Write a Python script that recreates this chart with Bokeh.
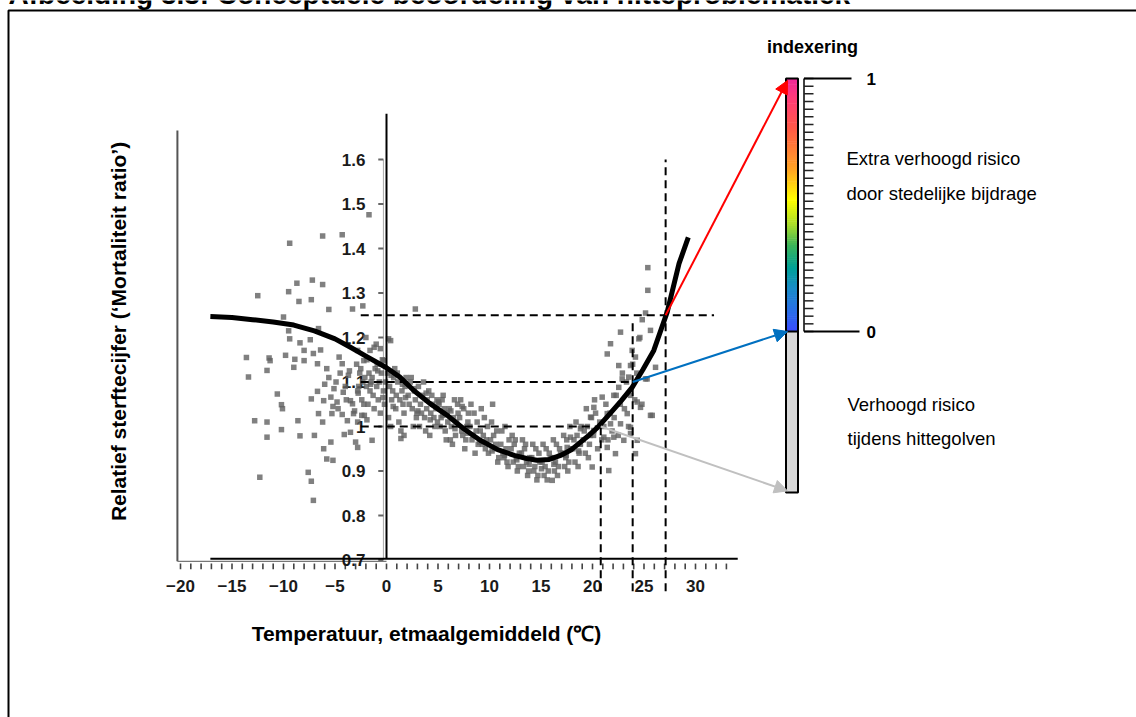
import math
from bokeh.plotting import figure
from bokeh.models import Range1d, Arrow, NormalHead
from bokeh.core.properties import value
from bokeh.embed import file_html
from bokeh.resources import INLINE

# ---------------- texts ----------------
title_text = "Afbeelding 3.3: Conceptuele beoordeling van hitteproblematiek"
x_label = "Temperatuur, etmaalgemiddeld (\u2103)"
y_label = "Relatief sterftecijfer (\u2018Mortaliteit ratio\u2019)"
index_title = "indexering"
upper_text = ["Extra verhoogd risico", "door stedelijke bijdrage"]
lower_text = ["Verhoogd risico", "tijdens hittegolven"]

# ---------------- axes ----------------
x_ticks = [-20, -15, -10, -5, 0, 5, 10, 15, 20, 25, 30]
x_tick_labels = ["\u221220", "\u221215", "\u221210", "\u22125", "0", "5", "10", "15", "20", "25", "30"]
x_minor_ticks = [-20, -19, -18, -17, -16, -15, -14, -13, -12, -11, -10, -9, -8, -7, -6, -5, -4, -3, -2, -1,
                 0, 1, 2, 3, 4, 5, 6, 7, 8, 9, 10, 11, 12, 13, 14, 15, 16, 17, 18, 19, 20, 21, 22, 23, 24,
                 25, 26, 27, 28, 29, 30, 31, 32, 33]
y_ticks = [0.7, 0.8, 0.9, 1.0, 1.1, 1.2, 1.3, 1.4, 1.5, 1.6]
y_tick_labels = ["0.7", "0.8", "0.9", "1", "1.1", "1.2", "1.3", "1.4", "1.5", "1.6"]

# ---------------- fitted curve ----------------
curve_T = [-17.1, -15, -13, -11, -9, -7, -5, -3.5, -2, 0, 1.3, 2.65, 4.2, 5.9, 7.5, 9.1, 10.8, 12.4,
           13.6, 14.6, 15.8, 16.9, 17.9, 18.9, 19.7, 20.5, 21.7, 22.8, 23.85, 24.9, 25.95, 27.25, 28.4, 29.3]
curve_r = [1.247, 1.245, 1.240, 1.235, 1.228, 1.215, 1.197, 1.178, 1.158, 1.132, 1.111, 1.081, 1.052,
           1.025, 0.995, 0.969, 0.948, 0.935, 0.928, 0.924, 0.926, 0.935, 0.947, 0.966, 0.981, 0.998,
           1.029, 1.058, 1.088, 1.128, 1.171, 1.257, 1.366, 1.425]

# ---------------- observations (daily values) ----------------
cold_T = [-9.4, -6.2, -4.3, -1.7, -12.5, -9.5, -8.7, -7.2, -6.2, -8.5, -7.3, -5.6, -3.3, -2.3, -10.0,
          -9.5, -6.6, -9.4, -8.4, -7.4, -8.0, -7.1, -6.4, -13.6, -11.4, -11.3, -11.6, -13.4, -9.8, -8.9,
          -8.0, -9.0, -6.7, -5.8, -4.6, -4.3, -2.8, -2.2, -1.6, -1.2, -0.6, -0.3, 0.2, -10.6, -10.2,
          -10.1, -12.8, -11.6, -11.6, -10.2, -8.6, -8.4, -7.0, -7.3, -6.7, -6.1, -6.6, -6.2, -5.3, -4.8,
          -5.4, -4.2, -3.5, -4.3, -3.2, -2.8, -5.4, -6.1, -5.8, -5.2, -4.1, -3.5, -3.0, -2.8, -1.4, -7.6,
          -7.3, -12.3, -7.1, 1.7, -3.8, -3.3, -4.9, -4.5, -4.0, -3.7, -5.1, -3.9, -4.7, -5.6, -6.0, -5.2,
          2.8, 0.4, 1.4, -3.1, -2.4, -1.9, -3.6, -2.0, -1.0]
cold_r = [1.412, 1.428, 1.431, 1.476, 1.294, 1.303, 1.322, 1.329, 1.319, 1.281, 1.285, 1.263, 1.264,
          1.271, 1.246, 1.215, 1.220, 1.197, 1.188, 1.195, 1.171, 1.164, 1.172, 1.155, 1.154, 1.148,
          1.126, 1.111, 1.160, 1.151, 1.148, 1.133, 1.141, 1.130, 1.156, 1.141, 1.171, 1.148, 1.171,
          1.178, 1.175, 1.148, 1.197, 1.073, 1.049, 1.040, 1.013, 1.010, 0.976, 0.993, 1.013, 0.979,
          0.980, 1.062, 1.079, 1.058, 1.029, 1.010, 1.029, 1.055, 1.066, 1.077, 1.058, 1.027, 1.029,
          1.010, 0.965, 0.950, 0.927, 0.924, 0.982, 0.987, 0.965, 0.953, 0.969, 0.897, 0.877, 0.886,
          0.834, 0.980, 1.013, 1.051, 1.100, 1.120, 1.090, 1.115, 1.085, 1.060, 1.040, 1.110, 1.095,
          1.045, 1.264, 1.193, 0.973, 1.035, 1.025, 1.015, 1.125, 1.200, 1.185]

band_T = [-2.9, -2.6, -2.3, -2.8, -2.4, -2.1, -2.7, -2.2, -2.5,
          -1.9, -1.7, -1.5, -1.3, -1.8, -1.1, -1.6, -1.2, -1.4, -1.95,
          -0.9, -0.7, -0.5, -0.3, -0.8, -0.2, -0.6, -0.4, -0.1, -0.95,
          0.1, 0.3, 0.5, 0.7, 0.9, 0.2, 0.6, 0.8, 0.4, 0.95,
          1.1, 1.3, 1.5, 1.7, 1.9, 1.2, 1.6, 1.8, 1.4, 1.05,
          2.1, 2.3, 2.5, 2.7, 2.9, 2.2, 2.6, 2.8, 2.4, 2.95,
          3.1, 3.3, 3.5, 3.7, 3.9, 3.2, 3.6, 3.8, 3.4, 3.95,
          4.1, 4.3, 4.5, 4.7, 4.9, 4.2, 4.6, 4.8, 4.4, 4.95,
          5.1, 5.3, 5.5, 5.7, 5.9, 5.2, 5.6, 5.8, 5.4, 5.95,
          6.1, 6.3, 6.5, 6.7, 6.9, 6.2, 6.6, 6.8, 6.4, 6.95,
          7.1, 7.3, 7.5, 7.7, 7.9, 7.2, 7.6, 7.8, 7.4, 7.95,
          8.1, 8.3, 8.5, 8.7, 8.9, 8.2, 8.6, 8.8, 8.4,
          9.1, 9.3, 9.5, 9.7, 9.9, 9.2, 9.6, 9.8, 9.4,
          10.1, 10.3, 10.5, 10.7, 10.9, 10.2, 10.6, 10.8, 10.4,
          11.1, 11.3, 11.5, 11.7, 11.9, 11.2, 11.6, 11.8, 11.4,
          12.1, 12.3, 12.5, 12.7, 12.9, 12.2, 12.6, 12.8, 12.4,
          13.1, 13.3, 13.5, 13.7, 13.9, 13.2, 13.6, 13.8, 13.4,
          14.1, 14.3, 14.5, 14.7, 14.9, 14.2, 14.6, 14.8, 14.4,
          15.1, 15.3, 15.5, 15.7, 15.9, 15.2, 15.6, 15.8, 15.4,
          16.1, 16.3, 16.5, 16.7, 16.9, 16.2, 16.6, 16.8, 16.4,
          17.1, 17.3, 17.5, 17.7, 17.9, 17.2, 17.6, 17.8, 17.4,
          18.1, 18.3, 18.5, 18.7, 18.9, 18.2, 18.6, 18.8, 18.4,
          19.1, 19.3, 19.5, 19.7, 19.9, 19.2, 19.6, 19.8, 19.4,
          20.1, 20.3, 20.5, 20.7, 20.9, 20.2,
          21.1, 21.3, 21.5, 21.7, 21.9,
          22.1, 22.3, 22.5, 22.7, 22.9,
          23.1, 23.3, 23.5, 23.7, 23.9,
          24.1, 24.3, 24.6, 24.8,
          -2.75, -1.55, -0.35, 0.65, 1.85, 3.05, 4.25, 5.45, 6.65, 7.85, 9.05, 10.25, 11.45, 12.65,
          13.85, 15.05, 16.25, 17.45, 18.65, -2.15, -0.85, 0.45, 1.55, 2.65, 3.85, 5.05, 6.25, 7.35]
band_r = [1.14, 1.12, 1.10, 1.08, 1.06, 1.11, 1.09, 1.05, 1.13,
          1.15, 1.12, 1.10, 1.07, 1.05, 1.13, 1.08, 1.04, 1.11, 1.09,
          1.14, 1.10, 1.12, 1.08, 1.06, 1.05, 1.03, 1.15, 1.10, 1.09,
          1.12, 1.09, 1.06, 1.11, 1.04, 1.02, 1.08, 1.13, 1.00, 1.07,
          1.10, 1.06, 1.08, 1.03, 1.11, 1.01, 1.05, 1.09, 0.99, 1.12,
          1.07, 1.10, 1.04, 1.08, 1.02, 1.05, 1.00, 1.06, 1.11, 1.03,
          1.09, 1.05, 1.07, 1.02, 1.04, 1.00, 1.10, 0.99, 1.03, 1.06,
          1.08, 1.03, 1.05, 1.00, 1.06, 0.98, 1.02, 1.04, 1.07, 1.01,
          1.05, 1.02, 1.07, 0.99, 1.03, 1.00, 1.04, 0.97, 1.06, 1.01,
          1.04, 1.00, 1.02, 0.98, 1.05, 0.97, 1.06, 1.01, 0.96, 1.03,
          1.02, 0.99, 1.04, 0.97, 1.01, 1.06, 0.95, 1.00, 0.98, 1.03,
          1.00, 0.97, 1.03, 0.99, 0.96, 1.05, 0.94, 1.01, 0.98,
          0.99, 0.96, 1.02, 0.97, 0.94, 1.04, 0.95, 1.00, 0.98,
          0.97, 1.05, 0.95, 0.99, 0.93, 1.01, 0.96, 0.92, 0.98,
          0.96, 0.94, 1.00, 0.92, 0.97, 0.99, 0.95, 0.91, 0.93,
          0.95, 0.92, 0.97, 0.90, 0.94, 0.98, 0.93, 0.91, 0.96,
          0.94, 0.91, 0.96, 0.89, 0.93, 0.97, 0.92, 0.90, 0.95,
          0.93, 0.90, 0.95, 0.89, 0.92, 0.96, 0.88, 0.94, 0.91,
          0.92, 0.89, 0.95, 0.90, 0.93, 0.96, 0.88, 0.94, 0.91,
          0.93, 0.90, 0.96, 0.91, 0.94, 0.97, 0.89, 0.95, 0.92,
          0.94, 0.91, 0.97, 0.92, 0.95, 0.98, 0.90, 1.00, 0.93,
          0.95, 0.92, 0.98, 0.94, 1.00, 0.97, 0.91, 0.96, 1.01,
          0.97, 0.94, 1.00, 0.96, 1.02, 0.99, 0.93, 0.98, 1.04,
          0.98, 1.03, 0.95, 1.01, 0.97, 1.06,
          1.00, 1.05, 0.97, 1.03, 0.99,
          1.02, 1.07, 0.98, 1.05, 1.12,
          1.04, 1.10, 1.00, 1.07, 1.14,
          1.06, 1.12, 1.20, 1.05,
          1.075, 1.095, 1.065, 1.045, 1.065, 1.035, 1.015, 1.025, 0.995, 0.985, 0.965, 0.945, 0.935,
          0.925, 0.915, 0.905, 0.915, 0.935, 0.945, 1.025, 1.125, 1.115, 1.095, 1.085, 1.075, 1.055,
          1.035, 1.045]

warm_T = [25.37, 25.37, 25.15, 24.83, 22.72, 21.75, 21.43, 24.5, 25.63, 23.85, 24.17, 23.69, 22.55,
          23.52, 22.88, 26.12, 25.15, 22.55, 20.94, 22.07, 24.34, 24.66, 20.13, 21.43, 23.37, 25.63,
          19.81, 21.75, 22.72, 23.69, 18.83, 20.13, 21.1, 22.07, 17.86, 23.04, 23.69, 21.43, 17.54,
          18.83, 19.97, 21.58, 22.23, 24.17, 24.34, 16.09, 25.8, 25.3]
warm_r = [1.357, 1.306, 1.255, 1.240, 1.212, 1.186, 1.163, 1.197, 1.216, 1.171, 1.156, 1.137, 1.137,
          1.111, 1.107, 1.133, 1.107, 1.088, 1.066, 1.070, 1.055, 1.043, 1.043, 1.029, 1.029, 1.025,
          1.021, 1.006, 1.006, 0.998, 0.995, 0.991, 0.976, 0.976, 0.976, 0.969, 0.984, 0.953, 0.953,
          0.961, 0.909, 0.901, 0.939, 0.939, 0.969, 0.879, 1.025, 1.107]

# ---------------- thresholds ----------------
threshold_T = [20.8, 23.9, 27.1]
threshold_r = [1.0, 1.1, 1.25]
threshold_hline_end_T = [20.8, 23.9, 31.8]
threshold_vline_top_r = [1.0, 1.24, 1.6]
threshold_index = [-0.63, 0.0, 1.0]
threshold_colors = ["#c0c0c0", "#0070c0", "#ff0000"]

index_ticks = [0, 1]
index_tick_labels = ["0", "1"]
gradient_stops = [0.0, 0.08, 0.17, 0.25, 0.34, 0.42, 0.52, 0.64, 0.80, 0.92, 1.0]
gradient_colors = ["#3a4cff", "#2a6ee8", "#1a8cc8", "#00a098", "#3cb45a", "#a8dc2c",
                   "#ffff00", "#ffa424", "#ff5a46", "#ff3c78", "#f0289a"]

# ---------------- layout ----------------
W, H = 1136, 717
T0_PX, PX_PER_DEG = 386.0, 10.3
R1_PY, PX_PER_R = 426.0, 445.0


def T_of(px):
    return (px - T0_PX) / PX_PER_DEG


def r_of(py):
    return 1.0 + (R1_PY - py) / PX_PER_R


CB_X0, CB_X1 = 785.5, 797.5
CB_TOP, CB_ZERO, CB_BOT = 78.0, 331.0, 492.0


def idx_py(v):
    return CB_ZERO - (CB_ZERO - CB_TOP) * v


def hex_rgb(h):
    return tuple(int(h[i:i + 2], 16) for i in (1, 3, 5))


def grad(v):
    for i in range(len(gradient_stops) - 1):
        a, b = gradient_stops[i], gradient_stops[i + 1]
        if a <= v <= b:
            t = (v - a) / (b - a)
            c0, c1 = hex_rgb(gradient_colors[i]), hex_rgb(gradient_colors[i + 1])
            return "#%02x%02x%02x" % tuple(int(round(c0[k] + (c1[k] - c0[k]) * t)) for k in range(3))
    return gradient_colors[-1]


FONT = value("Liberation Sans")

p = figure(width=W, height=H,
           x_range=Range1d(T_of(0), T_of(W)),
           y_range=Range1d(r_of(H), r_of(0)),
           x_axis_type=None, y_axis_type=None,
           toolbar_location=None, output_backend="svg",
           min_border=0, outline_line_color=None)
p.extra_x_ranges = {"px": Range1d(0, W)}
p.extra_y_ranges = {"px": Range1d(H, 0)}
PX = dict(x_range_name="px", y_range_name="px")

# outer frame
p.line(x=[8, 8, W], y=[H, 10, 10], line_color="black", line_width=2, **PX)
# title (cut off at the top edge, as in the source page)
p.text(x=[8], y=[9], text=[title_text], text_font=FONT, text_font_size="28px",
       text_font_style="bold", text_align="left", text_baseline="bottom", **PX)

# scanned-chart frame lines
p.line(x=[-20.3, -20.3], y=[1.665, 0.697], line_color="#555555", line_width=2)
p.line(x=[-20.3, 0], y=[0.697, 0.697], line_color="#777777", line_width=1.2)
p.line(x=[-0.3, -0.3], y=[0.70, 1.60], line_color="#aaaaaa", line_width=1)
p.segment(x0=[-0.8] * len(y_ticks), y0=y_ticks, x1=[-0.3] * len(y_ticks), y1=y_ticks,
          line_color="#666666", line_width=2)
p.segment(x0=x_minor_ticks, y0=[0.692] * len(x_minor_ticks), x1=x_minor_ticks,
          y1=[0.679] * len(x_minor_ticks), line_color="#444444", line_width=1.6)

# tick labels
p.text(x=[-2.05] * len(y_ticks), y=y_ticks, text=y_tick_labels, text_font=FONT,
       text_font_size="17px", text_font_style="bold", text_color="#1a1a1a",
       text_align="right", text_baseline="middle")
p.text(x=x_ticks, y=[0.642] * len(x_ticks), text=x_tick_labels, text_font=FONT,
       text_font_size="17px", text_font_style="bold", text_color="#1a1a1a",
       text_align="center", text_baseline="middle")

# observations
for tt, rr in ((cold_T, cold_r), (band_T, band_r), (warm_T, warm_r)):
    p.scatter(x=tt, y=rr, marker="square", size=5.5, fill_color="#606060",
              line_color=None, fill_alpha=0.8)

# main axis lines of the scan
p.line(x=[0, 0], y=[0.703, 1.703], line_color="black", line_width=2)
p.line(x=[-17.1, 34.1], y=[0.703, 0.703], line_color="black", line_width=2)

# threshold dashed lines
p.segment(x0=[-2.5] * 3, y0=threshold_r, x1=threshold_hline_end_T, y1=threshold_r,
          line_color="black", line_width=2, line_dash="8 5")
p.segment(x0=threshold_T, y0=[0.63] * 3, x1=threshold_T, y1=threshold_vline_top_r,
          line_color="black", line_width=2, line_dash="8 5")

# index bar
n = 120
g_bottom = [idx_py(i / n) for i in range(n)]
g_top = [idx_py((i + 1) / n) - 0.6 for i in range(n)]
g_col = [grad((i + 0.5) / n) for i in range(n)]
p.quad(left=[CB_X0] * n, right=[CB_X1] * n, bottom=g_bottom, top=g_top,
       fill_color=g_col, line_color=None, **PX)
p.quad(left=[CB_X0], right=[CB_X1], bottom=[CB_BOT], top=[CB_ZERO],
       fill_color="#d9d9d9", line_color=None, **PX)
p.quad(left=[CB_X0], right=[CB_X1], bottom=[CB_BOT], top=[CB_TOP],
       fill_color=None, line_color="black", line_width=2, **PX)
p.line(x=[CB_X0, CB_X1], y=[CB_ZERO, CB_ZERO], line_color="black", line_width=2, **PX)

comb_y = [idx_py(k / 33) for k in range(34)]
p.line(x=[803.5, 803.5], y=[CB_TOP, CB_ZERO], line_color="black", line_width=1.5, **PX)
p.segment(x0=[803.5] * 34, y0=comb_y, x1=[813] * 34, y1=comb_y,
          line_color="#222222", line_width=1.5, **PX)
p.segment(x0=[803.5, 803.5], y0=[idx_py(v) for v in index_ticks], x1=[859, 851],
          y1=[idx_py(v) for v in index_ticks], line_color="black", line_width=2, **PX)
p.text(x=[866, 866], y=[idx_py(v) for v in index_ticks], text=index_tick_labels,
       text_font=FONT, text_font_size="17px", text_font_style="bold",
       text_align="left", text_baseline="middle", **PX)
p.text(x=[812], y=[46], text=[index_title], text_font=FONT, text_font_size="18px",
       text_font_style="bold", text_align="center", text_baseline="middle", **PX)

p.text(x=[846, 846], y=[158, 193], text=upper_text, text_font=FONT, text_font_size="18.5px",
       text_align="left", text_baseline="middle", **PX)
p.text(x=[847, 847], y=[404, 438], text=lower_text, text_font=FONT, text_font_size="18.5px",
       text_align="left", text_baseline="middle", **PX)

# arrows from the curve thresholds to the index bar
for tT, tr, ti, col in zip(threshold_T, threshold_r, threshold_index, threshold_colors):
    p.add_layout(Arrow(end=NormalHead(size=13, fill_color=col, line_color=col),
                       x_start=tT, y_start=tr,
                       x_end=T_of(787), y_end=r_of(idx_py(ti) + (2 if ti == 1.0 else 0)),
                       line_color=col, line_width=2))

# fitted curve
p.line(x=curve_T, y=curve_r, line_color="black", line_width=5, line_join="round")

# axis titles
p.text(x=[426], y=[633], text=[x_label], text_font=FONT, text_font_size="21px",
       text_font_style="bold", text_align="center", text_baseline="middle", **PX)
p.text(x=[118], y=[331], text=[y_label], text_font=FONT, text_font_size="21px",
       text_font_style="bold", text_align="center", text_baseline="middle",
       angle=math.pi / 2, **PX)

open("out.html", "w").write(file_html(p, INLINE))
